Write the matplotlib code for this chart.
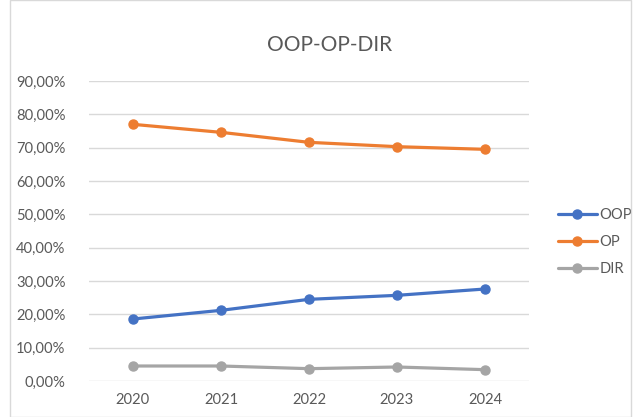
import matplotlib.pyplot as plt
from matplotlib.ticker import FuncFormatter, MultipleLocator
from matplotlib.patches import Rectangle

years = ["2020", "2021", "2022", "2023", "2024"]
oop = [0.186, 0.212, 0.245, 0.257, 0.276]
op = [0.770, 0.746, 0.716, 0.703, 0.695]
dir_ = [0.045, 0.045, 0.037, 0.042, 0.034]

series = [("OOP", oop, "#4472C4"), ("OP", op, "#ED7D31"), ("DIR", dir_, "#A5A5A5")]

plt.rcParams["font.family"] = ["Lato", "DejaVu Sans"]
txt = "#595959"

fig = plt.figure(figsize=(6.41, 4.17), dpi=100)
ax = fig.add_axes([89 / 641, 1 - 381 / 417, 440 / 641, 300 / 417])

x = range(len(years))
for name, vals, col in series:
    ax.plot(x, vals, color=col, lw=2.3, marker="o", ms=6.5, label=name,
            solid_capstyle="round", zorder=3)

ax.set_xlim(-0.5, len(years) - 0.5)
ax.set_ylim(0, 0.9)
ax.yaxis.set_major_locator(MultipleLocator(0.1))
ax.yaxis.set_major_formatter(FuncFormatter(lambda v, p: f"{v * 100:.2f}%".replace(".", ",")))
ax.set_xticks(list(x))
ax.set_xticklabels(years)
ax.grid(axis="y", color="#D9D9D9", lw=1)
ax.set_axisbelow(True)
for s in ax.spines.values():
    s.set_visible(False)
ax.tick_params(length=0, colors=txt, labelsize=10.6)
ax.tick_params(axis="y", pad=17)
ax.tick_params(axis="x", pad=9)

fig.text(330 / 641, 1 - 45 / 417, "OOP-OP-DIR", ha="center", va="center",
         fontsize=15, color=txt)

leg = ax.legend(loc="center left", bbox_to_anchor=(545 / 641, 1 - 242 / 417),
                bbox_transform=fig.transFigure, frameon=False, fontsize=10.6,
                labelcolor=txt, handlelength=2.6, handletextpad=0.2,
                labelspacing=0.9)

fig.patches.append(Rectangle((10 / 641, 0), 1 - 20 / 641, 1, transform=fig.transFigure,
                             fill=False, edgecolor="#D9D9D9", lw=1))

fig.savefig("out.png", dpi=100)
